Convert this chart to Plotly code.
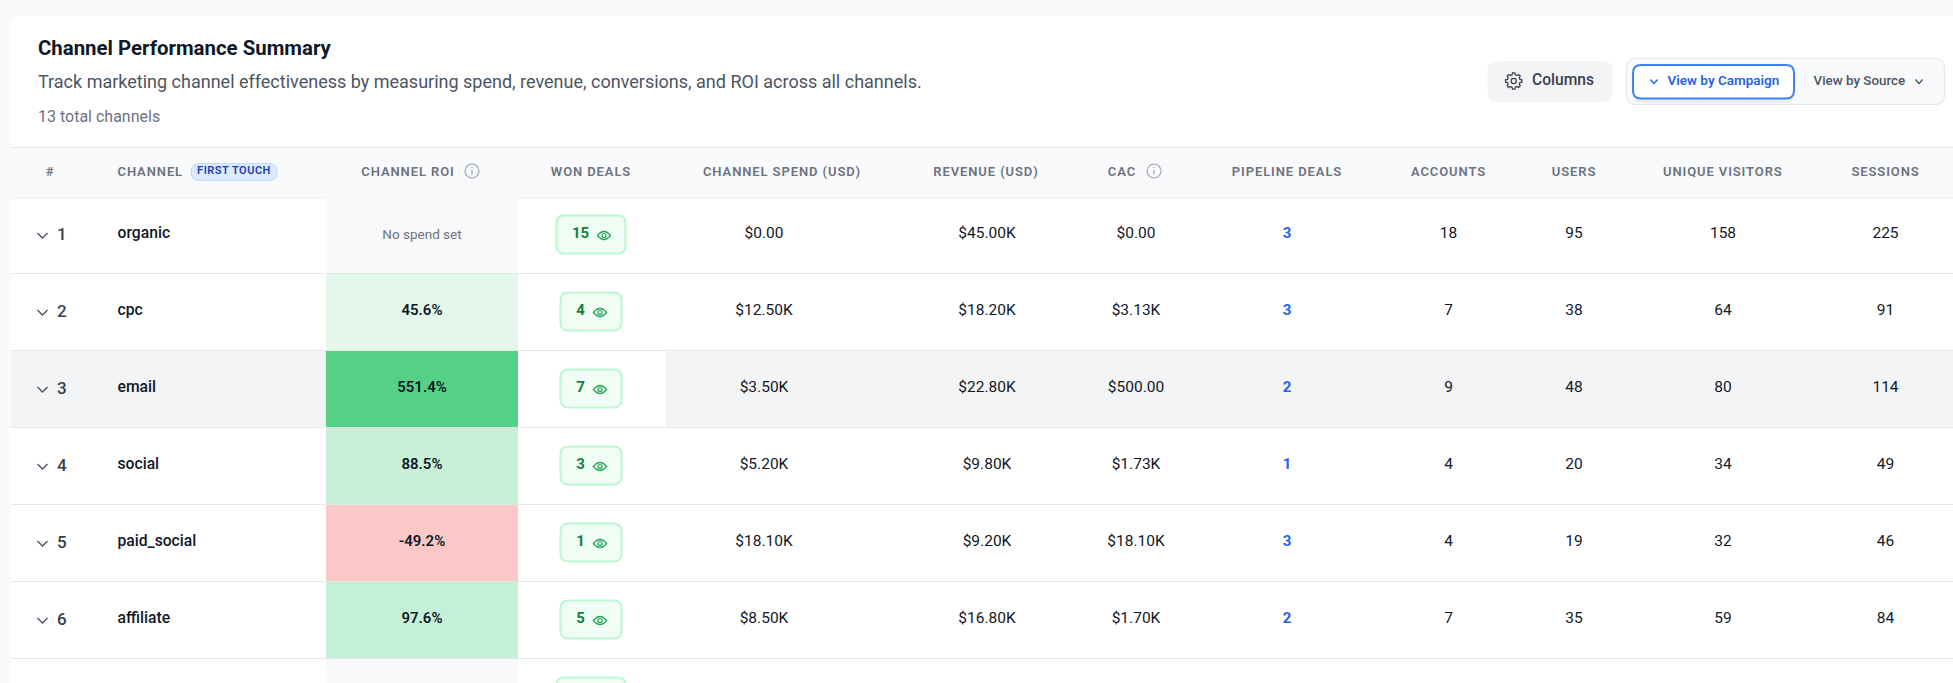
"""Channel performance summary table drawn with Plotly."""
import numpy as np
import plotly.graph_objects as go

# ---- data ----
CHANNELS = ["organic", "cpc", "email", "social", "paid_social", "affiliate"]
ROI_PCT = [None, 45.6, 551.4, 88.5, -49.2, 97.6]
WON_DEALS = [15, 4, 7, 3, 1, 5]
SPEND_USD = [0, 12500, 3500, 5200, 18100, 8500]
REVENUE_USD = [45000, 18200, 22800, 9800, 9200, 16800]
CAC_USD = [0, 3130, 500, 1730, 18100, 1700]
PIPELINE_DEALS = [3, 3, 2, 1, 3, 2]
ACCOUNTS = [18, 7, 9, 4, 4, 7]
USERS = [95, 38, 48, 20, 19, 35]
UNIQUE_VISITORS = [158, 64, 80, 34, 32, 59]
SESSIONS = [225, 91, 114, 49, 46, 84]

TITLE = "Channel Performance Summary"
SUBTITLE = "Track marketing channel effectiveness by measuring spend, revenue, conversions, and ROI across all channels."
TOTAL_LABEL = "13 total channels"
HEADERS = ["#", "CHANNEL", "CHANNEL ROI", "WON DEALS", "CHANNEL SPEND (USD)", "REVENUE (USD)",
           "CAC", "PIPELINE DEALS", "ACCOUNTS", "USERS", "UNIQUE VISITORS", "SESSIONS"]

# ---- layout and styles ----
W, H = 1953, 683
HEADER_X = [50, 117.5, 408, 591, 782, 986, 1122, 1287, 1448.5, 1574, 1722.8, 1885.5]
ROI_X0, ROI_X1 = 326, 518
WON_X = 591
SPEND_X, REVENUE_X, CAC_X, PIPELINE_X = 764, 987, 1136, 1287
ACCOUNTS_X, USERS_X, VISITORS_X, SESSIONS_X = 1448.5, 1574, 1723, 1885.5
ROW_TOP = 196.5
ROW_H = 77
ROI_FILLS = ["#f9f9f9", "#e3f7ea", "#54d186", "#c8f0d6", "#fbc8c8", "#c5f0d8", "#f9f9f9"]
SANS = "Roboto"
LINE = "#e5e7eb"

# page margin off, letter spacing for the uppercase labels (Plotly has no option for it)
POST_SCRIPT = """
document.body.style.margin = '0';
document.querySelectorAll('.textpoint text').forEach(function (t) {
  if (t.style.fontSize === '13px') t.style.letterSpacing = '0.9px';
  if (t.style.fontSize === '11px') t.style.letterSpacing = '0.5px';
});
"""


def row_y(i):
    return ROW_TOP + ROW_H * i + ROW_H / 2


def usd(v):
    return f"${v / 1000:.2f}K" if v >= 1000 else f"${v:.2f}"


def round_rect(x0, y0, x1, y1, r):
    return (f"M{x0 + r},{y0} L{x1 - r},{y0} Q{x1},{y0} {x1},{y0 + r} L{x1},{y1 - r} Q{x1},{y1} {x1 - r},{y1} "
            f"L{x0 + r},{y1} Q{x0},{y1} {x0},{y1 - r} L{x0},{y0 + r} Q{x0},{y0} {x0 + r},{y0} Z")


def chevron(cx, cy, hw, hh):
    return f"M{cx - hw},{cy - hh} L{cx},{cy + hh} L{cx + hw},{cy - hh}"


def eye(cx, cy):
    return (f"M{cx - 6.5},{cy} Q{cx},{cy - 8} {cx + 6.5},{cy} Q{cx},{cy + 8} {cx - 6.5},{cy} Z")


def gear(cx, cy, r_out=8.2, r_in=6.4, teeth=8):
    pts = []
    for k in range(teeth):
        a = 2 * np.pi * k / teeth
        for da, r in [(-0.26, r_in), (-0.14, r_out), (0.14, r_out), (0.26, r_in)]:
            pts.append((cx + r * np.cos(a + da), cy + r * np.sin(a + da)))
    return "M" + " L".join(f"{x:.2f},{y:.2f}" for x, y in pts) + " Z"


shapes = []


def add_path(path, fill=None, line=None, width=1):
    shapes.append(dict(type="path", path=path, fillcolor=fill or "rgba(0,0,0,0)", layer="below",
                       line=dict(color=line or "rgba(0,0,0,0)", width=width if line else 0)))


def add_rect(x0, y0, x1, y1, fill):
    shapes.append(dict(type="rect", x0=x0, y0=y0, x1=x1, y1=y1, fillcolor=fill, layer="below", line_width=0))


def add_hline(y, color=LINE, width=1):
    shapes.append(dict(type="line", x0=11, x1=W, y0=y, y1=y, layer="below", line=dict(color=color, width=width)))


def add_circle(cx, cy, r, color, width=1.2, fill=None):
    shapes.append(dict(type="circle", x0=cx - r, x1=cx + r, y0=cy - r, y1=cy + r, layer="below",
                       fillcolor=fill or "rgba(0,0,0,0)", line=dict(color=color, width=width)))


# card and header band
add_path(round_rect(11, 16, W + 20, H + 20, 10), fill="#ffffff")
add_rect(11, 147, W, 197, "#f9fafb")
add_hline(147.5)
add_hline(198, "#f5f6f7", 2)

# highlighted row, with won deals cell left white
add_rect(11, ROW_TOP + 2 * ROW_H, ROI_X0, ROW_TOP + 3 * ROW_H, "#f3f4f6")
add_rect(666, ROW_TOP + 2 * ROW_H, W, ROW_TOP + 3 * ROW_H, "#f3f4f6")
for i in range(1, 7):
    add_hline(ROW_TOP + ROW_H * i)

# badges in the won deals column, the last one is the row cut by the window
for i, wide in enumerate([d >= 10 for d in WON_DEALS] + [True]):
    hw = 34.5 if wide else 30.5
    cy = row_y(i) - 0.5
    add_path(round_rect(WON_X - hw, cy - 19, WON_X + hw, cy + 19, 8), fill="#f0fdf4", line="#bbf7d0", width=2)
    if i < len(WON_DEALS):
        ex = 604 if wide else 600
        add_path(eye(ex, cy + 1), line="#22a559", width=1.3)
        add_circle(ex, cy + 1, 2, "#22a559", 1.2)

# row chevrons
for i in range(len(CHANNELS)):
    add_path(chevron(42.5, row_y(i) + 0.5, 5, 2.5), line="#4b5563", width=1.4)

# info icons
for cx in [472, 1154]:
    add_circle(cx, 171, 7, "#9ca3af", 1.1)
    shapes.append(dict(type="line", x0=cx, x1=cx, y0=170, y1=174.5, layer="below", line=dict(color="#9ca3af", width=1.2)))
    shapes.append(dict(type="line", x0=cx, x1=cx, y0=167, y1=168, layer="below", line=dict(color="#9ca3af", width=1.2)))

# first touch pill
add_path(round_rect(191, 163.5, 277, 180.5, 8), fill="#dbeafe", line="#bfdbfe", width=1)

# top right controls
add_path(round_rect(1487.5, 61, 1613, 102, 10), fill="#f3f4f6")
add_path(gear(1513.7, 81), line="#374151", width=1.3)
add_circle(1513.7, 81, 2.6, "#374151", 1.3)
add_path(round_rect(1626.5, 58.5, 1944.5, 104.5, 10), fill="#f9fafb", line=LINE, width=1.2)
add_path(round_rect(1633, 67, 1794, 103, 8), fill="rgba(0,0,0,0.05)")
add_path(round_rect(1633, 65, 1794, 98.5, 8), fill="#ffffff", line="#3b82f6", width=2)
add_path(chevron(1654, 81.5, 3.6, 2), line="#2563eb", width=1.3)
add_path(chevron(1919, 81.5, 3.6, 2), line="#4b5563", width=1.3)

fig = go.Figure()

# ROI cells
fig.add_trace(go.Bar(
    x=[(ROI_X0 + ROI_X1) / 2] * len(ROI_FILLS),
    y=[ROW_H - 1] * len(ROI_FILLS),
    base=[ROW_TOP + ROW_H * i + 0.5 for i in range(len(ROI_FILLS))],
    width=ROI_X1 - ROI_X0,
    marker=dict(color=ROI_FILLS, line_width=0),
    hoverinfo="skip",
))


def add_text(xs, ys, texts, size=15.5, color="#111827", weight=400, pos="middle center", family=SANS):
    fig.add_trace(go.Scatter(
        x=xs, y=ys, text=texts, mode="text", textposition=pos, hoverinfo="skip",
        textfont=dict(family=family, size=size, color=color, weight=weight),
    ))


n = len(CHANNELS)
ys = [row_y(i) - 1 for i in range(n)]

add_text([38], [50], [TITLE], 20.4, "#111827", 700, "middle right")
add_text([38], [83], [SUBTITLE], 18, "#4b5563", 400, "middle right")
add_text([38], [117.5], [TOTAL_LABEL], 16, "#6b7280", 400, "middle right")

header_y = [173] * len(HEADERS)
centre = [i for i in range(len(HEADERS)) if i != 1]
add_text([HEADER_X[i] for i in centre], [header_y[i] for i in centre], [HEADERS[i] for i in centre], 13, "#6b7280", 600)
add_text([HEADER_X[1]], [173], [HEADERS[1]], 13, "#6b7280", 600, "middle right")
add_text([234], [171], ["FIRST TOUCH"], 11, "#1e40af", 600)

add_text([57] * n, [y + 1.5 for y in ys], [str(i + 1) for i in range(n)], 17, "#374151", 500, "middle right")
add_text([117.5] * n, ys, CHANNELS, 15.7, "#111827", 500, "middle right")

roi_done = [i for i in range(n) if ROI_PCT[i] is not None]
add_text([422] * len(roi_done), [ys[i] for i in roi_done], [f"{ROI_PCT[i]:.1f}%" for i in roi_done], 15, "#111827", 600)
add_text([422], [236], ["No spend set"], 13.5, "#6b7280")

add_text([580.5] * n, ys, [str(d) for d in WON_DEALS], 15, "#15803d", 700)

add_text([SPEND_X] * n, ys, [usd(v) for v in SPEND_USD])
add_text([REVENUE_X] * n, ys, [usd(v) for v in REVENUE_USD])
add_text([CAC_X] * n, ys, [usd(v) for v in CAC_USD])
add_text([PIPELINE_X] * n, ys, [str(v) for v in PIPELINE_DEALS], 15, "#2563eb", 700)
add_text([ACCOUNTS_X] * n, ys, [str(v) for v in ACCOUNTS])
add_text([USERS_X] * n, ys, [str(v) for v in USERS])
add_text([VISITORS_X] * n, ys, [str(v) for v in UNIQUE_VISITORS])
add_text([SESSIONS_X] * n, ys, [str(v) for v in SESSIONS])

add_text([1532], [81], ["Columns"], 15.6, "#374151", 500, "middle right")
add_text([1667.5], [82], ["View by Campaign"], 13.5, "#2563eb", 600, "middle right")
add_text([1813.5], [82], ["View by Source"], 13.4, "#4b5563", 500, "middle right")

fig.update_layout(
    width=W, height=H,
    margin=dict(l=0, r=0, t=0, b=0),
    paper_bgcolor="#f9fafb", plot_bgcolor="rgba(0,0,0,0)",
    showlegend=False, shapes=shapes,
    xaxis=dict(range=[0, W], visible=False, fixedrange=True),
    yaxis=dict(range=[H, 0], visible=False, fixedrange=True),
)

fig.write_html("out.html", config=dict(displayModeBar=False), post_script=POST_SCRIPT)
